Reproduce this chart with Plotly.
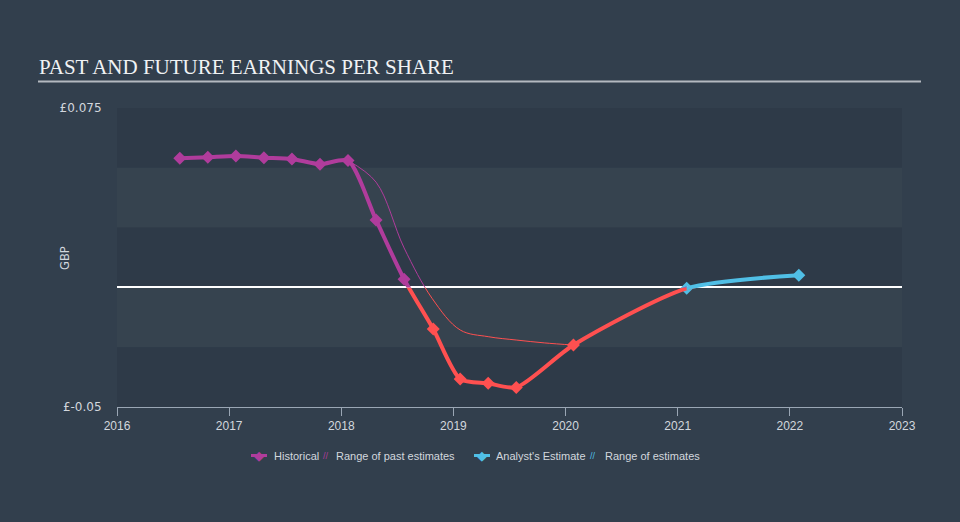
import plotly.graph_objects as go

# ---------------- data ----------------
years = [2016, 2017, 2018, 2019, 2020, 2021, 2022, 2023]
year_labels = [str(y) for y in years]

eps_dates = [2016.56, 2016.81, 2017.06, 2017.31, 2017.56, 2017.81, 2018.06, 2018.31, 2018.56,
             2018.82, 2019.06, 2019.31, 2019.56, 2020.07]
eps_values = [0.0540, 0.0544, 0.0549, 0.0542, 0.0537, 0.0515, 0.0530, 0.0282, 0.0034,
              -0.0174, -0.0383, -0.0401, -0.0418, -0.0241]

est_dates = [2021.08, 2022.08]
est_values = [-0.0004, 0.0051]

past_est_dates = [2018.06, 2018.31, 2018.56, 2018.81, 2019.06, 2019.31, 2019.56, 2019.81, 2020.07]
past_est_values = [0.0530, 0.0440, 0.0165, -0.0046, -0.0178, -0.0206, -0.0220, -0.0232, -0.0241]

y_min, y_max = -0.05, 0.075
y_ticks = [-0.05, 0.075]
y_tick_labels = ["£-0.05", "£0.075"]
band_edges = [0.075, 0.05, 0.025, 0.0, -0.025, -0.05]

legend_labels = ["Historical", "Range of past estimates", "Analyst's Estimate", "Range of estimates"]

# ---------------- styles ----------------
W, H = 960, 522
ML, MR, MT, MB = 117, 58, 108, 115
PAPER_BG = "#323f4d"
BAND_DARK = "#2e3a48"
BAND_LIGHT = "#36434f"
MAGENTA = "#b03c9c"
RED = "#ff5050"
BLUE = "#50bfe6"
TEXT = "#d2d7dd"
AXIS = "#9aa6b4"
NARROW = "Liberation Sans Narrow, Arial Narrow, Liberation Sans, sans-serif"

pw = W - ML - MR
ph = H - MT - MB


def px_x(p):
    return (p - ML) / pw


def px_y(p):
    return (H - MB - p) / ph


x0, x1 = years[0], years[-1]
split = est_dates[0]
frac_split = (split - x0) / (x1 - x0)
frac_zero = (0 - y_min) / (y_max - y_min)

full_dates = eps_dates + est_dates
full_values = eps_values + est_values

fig = go.Figure()

line_common = dict(mode="lines", hoverinfo="skip", showlegend=False)

# past estimates (thin) -- positive part magenta, negative part red
fig.add_trace(go.Scatter(x=past_est_dates, y=past_est_values, xaxis="x", yaxis="y3",
                         line=dict(color=RED, width=1, shape="spline", smoothing=1.0), **line_common))
fig.add_trace(go.Scatter(x=past_est_dates, y=past_est_values, xaxis="x2", yaxis="y2",
                         line=dict(color=MAGENTA, width=1, shape="spline", smoothing=1.0), **line_common))

# main EPS line
fig.add_trace(go.Scatter(x=full_dates, y=full_values, xaxis="x", yaxis="y3",
                         line=dict(color=RED, width=4, shape="spline", smoothing=0.7), **line_common))
fig.add_trace(go.Scatter(x=full_dates, y=full_values, xaxis="x2", yaxis="y2",
                         line=dict(color=MAGENTA, width=4, shape="spline", smoothing=0.7), **line_common))
fig.add_trace(go.Scatter(x=full_dates, y=full_values, xaxis="x3", yaxis="y",
                         line=dict(color=BLUE, width=4, shape="spline", smoothing=0.7), **line_common))

# markers
hist_colors = [MAGENTA if v >= 0 else RED for v in eps_values]
fig.add_trace(go.Scatter(x=eps_dates, y=eps_values, mode="markers", showlegend=False,
                         marker=dict(symbol="diamond", size=10, color=hist_colors),
                         cliponaxis=False, hoverinfo="x+y"))
fig.add_trace(go.Scatter(x=est_dates, y=est_values, mode="markers", showlegend=False,
                         marker=dict(symbol="diamond", size=10, color=BLUE),
                         cliponaxis=False, hoverinfo="x+y"))

# ---------------- shapes ----------------
shapes = []
for i in range(len(band_edges) - 1):
    shapes.append(dict(type="rect", xref="paper", yref="y", x0=0, x1=1,
                       y0=band_edges[i + 1], y1=band_edges[i], layer="below",
                       fillcolor=BAND_DARK if i % 2 == 0 else BAND_LIGHT, line=dict(width=0)))
# title underline
shapes.append(dict(type="line", xref="paper", yref="paper", x0=px_x(38), x1=px_x(921),
                   y0=px_y(81.5), y1=px_y(81.5), line=dict(color="#b4b9c0", width=2)))

# legend symbols
leg_y = px_y(455.5)
shapes.append(dict(type="line", xref="paper", yref="paper", x0=px_x(251), x1=px_x(267),
                   y0=leg_y, y1=leg_y, line=dict(color=MAGENTA, width=3)))
shapes.append(dict(type="line", xref="paper", yref="paper", x0=px_x(474), x1=px_x(490),
                   y0=leg_y, y1=leg_y, line=dict(color=BLUE, width=3)))

annotations = []


def add_text(text, xpx, ypx, size=11, color=TEXT, family="Liberation Sans, Arial, sans-serif",
             xanchor="left", angle=0):
    annotations.append(dict(text=text, x=px_x(xpx), y=px_y(ypx), xref="paper", yref="paper",
                            xanchor=xanchor, yanchor="middle", showarrow=False, textangle=angle,
                            font=dict(size=size, color=color, family=family)))


add_text("PAST AND FUTURE EARNINGS PER SHARE", 37, 67, size=21, color="#f0f2f4",
         family="Liberation Serif, Times New Roman, serif")
add_text("GBP", 65, 258, size=11.5, family="DejaVu Sans, sans-serif", xanchor="center", angle=-90)

add_text("◆", 259, 455.5, size=13, color=MAGENTA, xanchor="center")
add_text(legend_labels[0], 271.5, 455.5)
add_text("//", 321, 455.5, size=9, color=MAGENTA)
add_text(legend_labels[1], 334, 455.5)
add_text("◆", 482, 455.5, size=13, color=BLUE, xanchor="center")
add_text(legend_labels[2], 494, 455.5)
add_text("//", 588, 455.5, size=9, color=BLUE)
add_text(legend_labels[3], 602.5, 455.5)

hidden = dict(visible=False, showgrid=False, zeroline=False, fixedrange=True)

fig.update_layout(
    width=W, height=H,
    margin=dict(l=ML, r=MR, t=MT, b=MB, pad=0),
    paper_bgcolor=PAPER_BG,
    plot_bgcolor="rgba(0,0,0,0)",
    showlegend=False,
    shapes=shapes,
    annotations=annotations,
    xaxis=dict(domain=[0, 1], range=[x0, x1], tickvals=years, ticktext=year_labels,
               ticks="outside", ticklen=8, tickcolor=AXIS, tickwidth=1,
               showline=True, linecolor=AXIS, linewidth=1, showgrid=False, zeroline=False,
               tickfont=dict(size=12, color=TEXT, family=NARROW), anchor="y"),
    yaxis=dict(domain=[0, 1], range=[y_min, y_max], tickvals=y_ticks, ticktext=y_tick_labels,
               ticks="outside", ticklen=12, tickcolor="rgba(0,0,0,0)", showline=False,
               showgrid=False, zeroline=True, zerolinecolor="#ffffff", zerolinewidth=1.5,
               tickfont=dict(size=12, color=TEXT, family="DejaVu Sans, sans-serif"), anchor="x"),
    xaxis2=dict(domain=[0, frac_split], range=[x0, split], anchor="y2", **hidden),
    yaxis2=dict(domain=[frac_zero, 1], range=[0, y_max], anchor="x2", **hidden),
    xaxis3=dict(domain=[frac_split, 1], range=[split, x1], anchor="y", **hidden),
    yaxis3=dict(domain=[0, frac_zero], range=[y_min, 0], anchor="x", **hidden),
)

fig.write_html("out.html")
